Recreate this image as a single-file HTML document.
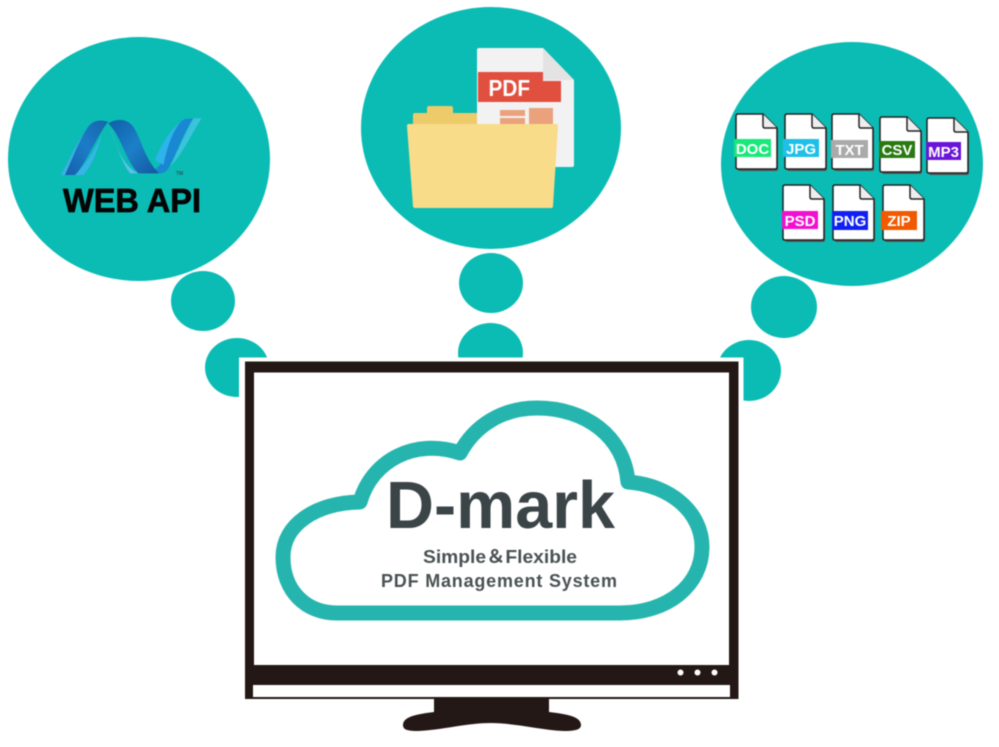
<!DOCTYPE html>
<html><head><meta charset="utf-8"><style>html,body{margin:0;padding:0;background:#fff}svg{display:block;filter:blur(.4px)}text{font-family:"Liberation Sans","Noto Sans CJK JP",sans-serif;font-weight:bold}</style></head><body>
<svg width="999" height="747" viewBox="0 0 999 747" xmlns="http://www.w3.org/2000/svg">
<defs>
<linearGradient id="b1" x1="0" y1="1" x2="1" y2="0"><stop offset="0" stop-color="#1560a8"/><stop offset=".5" stop-color="#1c7cc8"/><stop offset="1" stop-color="#1565a8"/></linearGradient>
<linearGradient id="b2" x1="0" y1="0" x2="1" y2="1"><stop offset="0" stop-color="#0f5ea8"/><stop offset=".5" stop-color="#1b80c8"/><stop offset="1" stop-color="#1456a0"/></linearGradient>
<g id="pg"><path d="M2 2H28L42 16V55Q42 57 40 57H4Q2 57 2 55Z" fill="#555"/><path d="M2 0H27L41 14V53Q41 55 39 55H2Q0 55 0 53V2Q0 0 2 0Z" fill="#fff" stroke="#222" stroke-width="1.5"/><path d="M27 0V12Q27 14 29 14H41" fill="#eee" stroke="#222" stroke-width="1.5"/></g>
</defs>
<g fill="#0bbcb4">
<ellipse cx="139" cy="159" rx="131" ry="122"/>
<ellipse cx="491" cy="128" rx="130" ry="121"/>
<ellipse cx="852" cy="164" rx="131" ry="122"/>
<ellipse cx="203" cy="301" rx="32" ry="30"/>
<ellipse cx="237" cy="367.500" rx="32" ry="29.500"/>
<ellipse cx="491" cy="283" rx="32" ry="30"/>
<ellipse cx="490.500" cy="353" rx="32.500" ry="30"/>
<ellipse cx="784" cy="307" rx="33" ry="31"/>
<ellipse cx="749" cy="370.500" rx="32" ry="30.500"/>
</g>
<!-- .NET logo -->
<g transform="translate(55 110) scale(.33333)">
<path d="M18 195C45 150 65 90 115 35C85 90 75 130 40 195Z" fill="#3fb0e8"/>
<path d="M30 195C55 140 75 85 100 50C115 30 135 28 160 35C130 70 110 130 62 195Z" fill="url(#b1)"/>
<path d="M60 195C85 170 110 140 140 75C125 130 110 165 85 195Z" fill="#39b4ea"/>
<path d="M255 190C300 190 320 170 335 120C345 80 360 40 390 27L415 25C385 70 365 130 340 175C330 190 320 190 310 190Z" fill="#1a87d2"/>
<path d="M300 150C320 100 345 60 385 28C360 50 340 95 325 165Z" fill="#2eb4ea"/>
<path d="M415 25H440C410 70 385 130 345 170C370 120 390 70 415 25Z" fill="#3cc2dc"/>
<path d="M160 40C185 25 215 25 235 50C260 90 270 150 312 190H250C210 150 200 80 160 40Z" fill="url(#b2)"/>
<path d="M165 60C185 90 190 160 250 190H225C195 150 185 100 165 60Z" fill="#5cc0ec"/>
</g>
<text x="176" y="175" font-size="5" fill="#2a5a60">TM</text>
<text x="63" y="212" font-size="33" fill="#050505" stroke="#050505" stroke-width=".7" textLength="138" lengthAdjust="spacingAndGlyphs">WEB API</text>
<!-- PDF / folder -->
<path d="M479 48H543L574 80V165Q574 167 572 167H479Q477 167 477 165V50Q477 48 479 48Z" fill="#f2f2f2"/>
<path d="M543 48L574 80H543Z" fill="#e3e3e3"/>
<path d="M478 72H543V81H561V102H478Z" fill="#e14f3f"/>
<text x="488.500" y="96" font-size="23" fill="#fff" textLength="41.500" lengthAdjust="spacingAndGlyphs">PDF</text>
<path d="M500 110H525V116H500ZM500 118H525V124H500ZM529 108H553V124H529Z" fill="#e9a27c"/>
<path d="M413 124V115Q413 113 415 113H427V108Q427 106 429 106H451Q453 106 453 108V113H477V124Z" fill="#edcb6b"/>
<path d="M409 124H556Q558 124 558 126L553 206Q553 208 551 208H415Q413 208 413 206L407 126Q407 124 409 124Z" fill="#f8dc8a"/>
<!-- file icons -->
<g font-size="15" text-anchor="middle" fill="#fff">
<use href="#pg" x="736" y="114"/><rect x="734" y="139" width="37" height="18" fill="#19e87a"/><text x="752.500" y="154">DOC</text>
<use href="#pg" x="785" y="114"/><rect x="783" y="139" width="36" height="18" fill="#1ec0e8"/><text x="801" y="154">JPG</text>
<use href="#pg" x="832" y="114"/><rect x="831" y="140" width="37" height="18" fill="#aaaaaa"/><text x="849.500" y="155">TXT</text>
<use href="#pg" x="880" y="117"/><rect x="879" y="141" width="36" height="17" fill="#2a7a12"/><text x="897" y="155">CSV</text>
<use href="#pg" x="927" y="118"/><rect x="926" y="142" width="35" height="18" fill="#6a14d8"/><text x="943.500" y="157">MP3</text>
<use href="#pg" x="783" y="185"/><rect x="782" y="211" width="36" height="18" fill="#f010d0"/><text x="800" y="226">PSD</text>
<use href="#pg" x="833" y="185"/><rect x="832" y="211" width="36" height="19" fill="#1020f0"/><text x="850" y="226">PNG</text>
<use href="#pg" x="883" y="185"/><rect x="881" y="211" width="36" height="19" fill="#f05a00"/><text x="899" y="226">ZIP</text>
</g>
<!-- monitor -->
<rect x="239" y="357.500" width="504.500" height="60" fill="#fff"/>
<path d="M434 698H549V712C565 714 581 716 581 725C581 730 574 731 564 731C540 730 515 723 491 723C467 723 442 730 418 731C408 731 403 730 403 725C403 716 419 714 434 712Z" fill="#231815"/>
<rect x="245" y="361.500" width="493.500" height="337.500" fill="#231815"/>
<rect x="254" y="372.500" width="475" height="292.500" fill="#fff"/>
<rect x="253" y="685" width="477" height="12" fill="#fff"/>
<circle cx="680.500" cy="672.500" r="3" fill="#fff"/><circle cx="697.500" cy="672.500" r="3" fill="#fff"/><circle cx="714.500" cy="672.500" r="3" fill="#fff"/>
<!-- cloud -->
<path d="M337 613H620C668 613 702 585 702 547C702 512 670 485 628 482C624 436 585 408 537 408C503 408 475 425 460 453C415 438 372 460 360 502C315 503 283 525 283 557C283 590 305 613 337 613Z" fill="none" stroke="#26b5ae" stroke-width="15" stroke-linejoin="round"/>
<text x="386" y="528" font-size="67" fill="#3b4548" textLength="229" lengthAdjust="spacingAndGlyphs">D-mark</text>
<text x="423" y="563" font-size="18" fill="#4a5254" textLength="154" lengthAdjust="spacingAndGlyphs">Simple＆Flexible</text>
<text x="381" y="587" font-size="18" fill="#4a5254" textLength="236" lengthAdjust="spacing">PDF Management System</text>
</svg>
</body></html>
